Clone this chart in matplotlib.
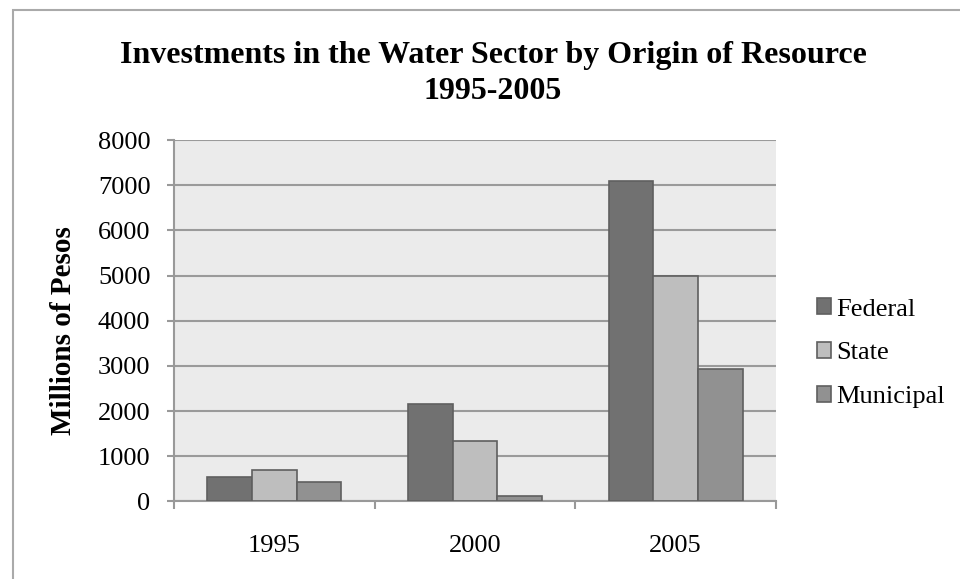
import numpy as np
import matplotlib.pyplot as plt
from matplotlib.patches import Rectangle

# data
years = ['1995', '2000', '2005']
federal = [550, 2150, 7100]
state = [700, 1340, 5000]
municipal = [430, 120, 2930]
series_names = ['Federal', 'State', 'Municipal']
colors = ['#717171', '#bebebe', '#919191']

plt.rcParams['font.family'] = ['Liberation Serif', 'DejaVu Serif']

fig = plt.figure(figsize=(9.6, 5.79), dpi=100)
ax = fig.add_axes([0.1813, 0.1339, 0.627, 0.6243])

# outer chart frame (runs off the right and bottom edges)
fig.patches.append(Rectangle((13 / 960, -0.1), 1.2, 1 - 10 / 579 + 0.1,
                             transform=fig.transFigure, fill=False,
                             edgecolor='#aaaaaa', linewidth=1.5))

x = np.arange(len(years)) + 0.5
w = 0.2222
for i, (vals, name, c) in enumerate(zip([federal, state, municipal], series_names, colors)):
    ax.bar(x + (i - 1) * w, vals, width=w, color=c, edgecolor='#5f5f5f',
           linewidth=1.2, label=name, zorder=3)

ax.set_xlim(0, 3)
ax.set_ylim(0, 8000)
ax.set_facecolor('#ebebeb')
ax.set_yticks(np.arange(0, 8001, 1000))
ax.yaxis.grid(True, color='#9a9a9a', linewidth=1.5, zorder=1)
ax.set_axisbelow(True)

ax.set_xticks([0, 1, 2, 3])
ax.set_xticklabels([])
ax.set_xticks(x, minor=True)
ax.set_xticklabels(years, minor=True)
ax.tick_params(axis='x', which='minor', length=0, labelsize=19, pad=24)
ax.tick_params(axis='x', which='major', length=5.5, color='#999999', width=1.5)
ax.tick_params(axis='y', length=5, color='#999999', width=1.5, labelsize=19, pad=12)

for s in ['top', 'right']:
    ax.spines[s].set_visible(False)
for s in ['left', 'bottom']:
    ax.spines[s].set_color('#999999')
    ax.spines[s].set_linewidth(1.5)

ax.set_ylabel('Millions of Pesos', fontsize=21, fontweight='bold', va='center')
ax.yaxis.set_label_coords(-0.184, 0.4716)
fig.text(0.5135, 0.873, 'Investments in the Water Sector by Origin of Resource\n1995-2005',
         ha='center', va='center', fontsize=23, fontweight='bold', linespacing=1.32)

leg = ax.legend(loc='center left', bbox_to_anchor=(1.028, 0.41), frameon=False,
                fontsize=19, handlelength=0.55, handleheight=0.55, handletextpad=0.2,
                labelspacing=0.81)

fig.savefig('out.png', dpi=100)
